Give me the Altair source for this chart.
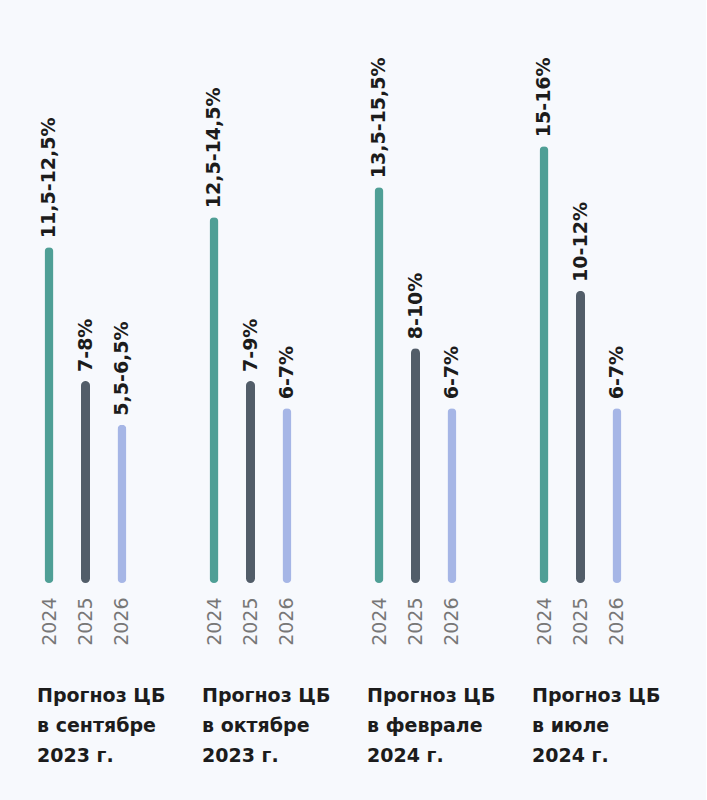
import altair as alt
import pandas as pd

groups = ["Прогноз ЦБ\nв сентябре\n2023 г.", "Прогноз ЦБ\nв октябре\n2023 г.",
          "Прогноз ЦБ\nв феврале\n2024 г.", "Прогноз ЦБ\nв июле\n2024 г."]
years = ["2024", "2025", "2026"]
labels = [
    ["11,5-12,5%", "7-8%", "5,5-6,5%"],
    ["12,5-14,5%", "7-9%", "6-7%"],
    ["13,5-15,5%", "8-10%", "6-7%"],
    ["15-16%", "10-12%", "6-7%"],
]
heights = [
    [12.3, 7.4, 5.8],
    [13.4, 7.4, 6.4],
    [14.5, 8.6, 6.4],
    [16.0, 10.7, 6.4],
]
colors = ["#4f9f96", "#525d69", "#a6b6e6"]

rows = []
for g, grp in enumerate(groups):
    for i, yr in enumerate(years):
        rows.append({"group": grp, "year": yr, "h": heights[g][i], "label": labels[g][i]})
df = pd.DataFrame(rows)

FONT = "DejaVu Sans"

x = alt.X("year:O", scale=alt.Scale(type="point", padding=0.33),
          axis=alt.Axis(title=None, labelAngle=-90, labelFontSize=19, labelColor="#777777",
                        labelFont=FONT, labelPadding=14, domain=False, ticks=False, grid=False))
y = alt.Y("h:Q", scale=alt.Scale(domain=[0, 20]), axis=None)

bars = alt.Chart().mark_bar(size=9, cornerRadius=4.5).encode(
    x=x, y=y,
    color=alt.Color("year:N", scale=alt.Scale(domain=years, range=colors), legend=None),
)
text = alt.Chart().mark_text(angle=270, align="left", baseline="middle", dx=9,
                             fontSize=19, fontWeight="bold", font=FONT, color="#1c1c1c").encode(
    x=x, y=y, text="label:N"
)

chart = alt.layer(bars, text, data=df).properties(width=97, height=546).facet(
    column=alt.Column("group:N", sort=groups,
                      header=alt.Header(title=None, labelOrient="bottom",
                                        labelExpr="split(datum.value, '\\n')",
                                        labelFont=FONT, labelFontSize=19, labelFontWeight="bold",
                                        labelColor="#1c1c1c", labelAlign="left", labelAnchor="start",
                                        labelLineHeight=30, labelPadding=42, labelBaseline="top")),
    spacing=68,
).configure(background="#f7f9fd").configure_view(stroke="transparent", strokeWidth=0).properties(
    padding={"left": 37, "top": 37, "right": 45, "bottom": 34}
)

chart.save("out.html", embed_options={"renderer": "svg", "actions": False})
